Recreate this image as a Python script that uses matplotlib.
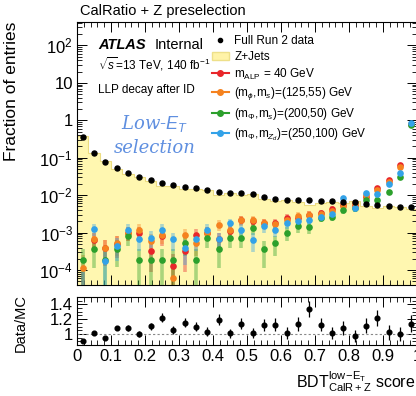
import numpy as np
import matplotlib
matplotlib.use("Agg")
import matplotlib.pyplot as plt
from matplotlib.lines import Line2D
from matplotlib.patches import Patch
from matplotlib.ticker import MultipleLocator, LogLocator, FixedLocator, NullFormatter, FuncFormatter

plt.rcParams['font.family'] = ['Liberation Sans', 'DejaVu Sans']
plt.rcParams['mathtext.fontset'] = 'custom'
plt.rcParams['mathtext.rm'] = 'Liberation Sans'
plt.rcParams['mathtext.it'] = 'Liberation Sans:italic'
plt.rcParams['mathtext.bf'] = 'Liberation Sans:bold'

# 30 bins of the BDT score, 0..1
bin_edges = np.linspace(0, 1, 31)

# fraction of entries
data = [0.35, 0.133, 0.077, 0.053, 0.039, 0.031, 0.026, 0.021, 0.019, 0.0167,
        0.0158, 0.0139, 0.0123, 0.0116, 0.0115, 0.011, 0.0091, 0.0080, 0.0076, 0.0076,
        0.0075, 0.0071, 0.0068, 0.0067, 0.0066, 0.0059, 0.0056, 0.0052, 0.0049, 0.0049]
zjets = [0.385, 0.132, 0.082, 0.049, 0.036, 0.031, 0.0236, 0.0172, 0.0181, 0.0145,
         0.0144, 0.0135, 0.0103, 0.0115, 0.0101, 0.0109, 0.0081, 0.0071, 0.0075, 0.0067,
         0.0056, 0.0063, 0.0067, 0.0062, 0.0068, 0.0053, 0.0046, 0.0051, 0.0049, 0.0043]

# signal samples, log10 of fraction of entries
sig_alp40_log = [-4.6, -3.2, -3.42, -3.3, -3.0, -3.0, -3.5, -3.1, -3.9, -3.5,
                 -3.05, -3.0, -3.18, -2.95, -2.65, -2.68, -2.74, -2.74, -2.6, -2.62,
                 -2.52, -2.47, -2.37, -2.25, -2.25, -2.05, -1.80, -1.59, -1.19, -0.10]
sig_125_55_log = [-3.95, -3.18, -3.40, -3.27, -3.0, -2.92, -3.22, -3.05, -4.2, -3.05,
                  -3.27, -3.0, -2.79, -2.92, -2.67, -2.65, -2.74, -2.78, -2.65, -2.55,
                  -2.52, -2.5, -2.42, -2.3, -2.2, -2.0, -1.85, -1.65, -1.25, -0.10]
sig_200_50_log = [-3.74, -3.45, -3.74, -3.43, -3.1, -3.74, -3.74, -3.74, -3.74, -3.27,
                  -3.74, -3.13, -3.45, -3.13, -3.13, -2.87, -3.45, -3.27, -3.0, -2.83,
                  -2.85, -2.6, -2.57, -2.4, -2.35, -2.12, -2.12, -1.91, -1.51, -0.12]
sig_250_100_log = [-4.6, -2.90, -3.76, -3.35, -2.92, -3.18, -3.13, -2.92, -3.18, -3.4,
                   -3.18, -2.92, -3.18, -2.74, -2.92, -3.2, -2.83, -2.92, -2.74, -2.68,
                   -2.65, -2.57, -2.5, -2.07, -2.35, -1.93, -1.98, -1.70, -1.41, -0.08]

sig_labels = [r"m$_{\rm ALP}$ = 40 GeV",
              r"(m$_{\phi}$,m$_{s}$)=(125,55) GeV",
              r"(m$_{\Phi}$,m$_{s}$)=(200,50) GeV",
              r"(m$_{\Phi}$,m$_{Z_{d}}$)=(250,100) GeV"]
sig_colors = ['#e8262a', '#f5821f', '#2ca02c', '#33a2e8']

n_data_eff = 21000.   # effective stat for data errors
n_sig_eff = 6000.     # effective stat for signal errors

centers = 0.5 * (bin_edges[1:] + bin_edges[:-1])
data = np.array(data)
zjets = np.array(zjets)
ratio = data / zjets
data_err = np.sqrt(data / n_data_eff)
ratio_err = ratio / np.sqrt(data * n_data_eff)

W, H = 416, 396
fig = plt.figure(figsize=(W / 100, H / 100), dpi=100)
ax = fig.add_axes([77 / W, 1 - 285 / H, 340 / W, 263 / H])
rax = fig.add_axes([77 / W, 1 - 345 / H, 340 / W, 48 / H])

# Z+jets background
ax.stairs(zjets, bin_edges, fill=True, baseline=1e-6, color='#fff7b0', zorder=1)
ax.stairs(zjets, bin_edges, fill=False, baseline=None, color='#ecdc80', lw=0.8, zorder=1)

# signals
for logs, col in zip([sig_alp40_log, sig_125_55_log, sig_200_50_log, sig_250_100_log], sig_colors):
    vals = 10 ** np.array(logs)
    err = np.sqrt(vals / n_sig_eff)
    lo = np.minimum(err, vals - 1e-6)
    ax.errorbar(centers, vals, yerr=[lo, err], fmt='none', ecolor=col, elinewidth=2.6,
                alpha=0.4, zorder=3)
    ax.plot(centers, vals, 'o', color=col, ms=4.8, mec='none', zorder=4)

# data
ax.errorbar(centers, data, yerr=data_err, fmt='o', color='black', ms=3.6, elinewidth=0.8, zorder=5)

ax.set_yscale('log')
ax.set_ylim(4e-5, 420)
ax.set_xlim(0, 1)
ax.yaxis.set_major_locator(FixedLocator([1e-4, 1e-3, 1e-2, 1e-1, 1, 10, 100]))
ax.yaxis.set_minor_locator(LogLocator(base=10, subs=np.arange(2, 10), numticks=20))
ax.yaxis.set_minor_formatter(NullFormatter())


def log_fmt(v, pos):
    e = int(round(np.log10(v)))
    if e == 0:
        return "1"
    if e == 1:
        return "10"
    return r"$10^{%d}$" % e


ax.yaxis.set_major_formatter(FuncFormatter(log_fmt))
for a in (ax, rax):
    a.xaxis.set_major_locator(MultipleLocator(0.1))
    a.xaxis.set_minor_locator(MultipleLocator(0.02))
    a.tick_params(which='both', direction='in', top=True, right=True, labelsize=12, pad=3)
    a.tick_params(which='major', length=7, width=0.7)
    a.tick_params(which='minor', length=3.5, width=0.6)
    for s in a.spines.values():
        s.set_linewidth(0.8)
ax.tick_params(labelbottom=False)

ax.set_ylabel("Fraction of entries", fontsize=12.5, loc='top', labelpad=2)

# ratio panel
rax.errorbar(centers, ratio, yerr=ratio_err, fmt='o', color='black', ms=3.4, elinewidth=0.9)
rax.axhline(1, color='#888888', ls=(0, (2, 2)), lw=0.8)
rax.set_xlim(0, 1)
rax.set_ylim(0.85, 1.5)
rax.yaxis.set_major_locator(FixedLocator([1, 1.2, 1.4]))
rax.yaxis.set_minor_locator(MultipleLocator(0.05))
rax.yaxis.set_major_formatter(FuncFormatter(lambda v, p: "1" if abs(v - 1) < 1e-6 else "%.1f" % v))
rax.set_xticks(np.round(np.arange(0, 1.01, 0.1), 1))
rax.set_xticklabels(["0", "0.1", "0.2", "0.3", "0.4", "0.5", "0.6", "0.7", "0.8", "0.9", "1"])
rax.set_ylabel("Data/MC", fontsize=10.5)
rax.yaxis.set_label_coords(-0.145, 0.45)
ax.yaxis.set_label_coords(-0.17, 1.0)

fig.text(415 / W, 1 - 382 / H, r"BDT$^{\rm low\!-\!E_{T}}_{\rm CalR+Z}$ score", fontsize=11.5,
         ha='right', va='center')

# labels
fig.text(80 / W, 1 - 11 / H, "CalRatio + Z preselection", fontsize=10.5, ha='left', va='center')
fig.text(98 / W, 1 - 45 / H, "ATLAS", fontsize=10.5, weight='bold', style='italic', ha='left', va='center')
fig.text(155 / W, 1 - 45 / H, "Internal", fontsize=10.5, ha='left', va='center')
fig.text(98 / W, 1 - 64 / H, r"$\sqrt{s}$=13 TeV, 140 fb$^{-1}$", fontsize=8.5, ha='left', va='center')
fig.text(98 / W, 1 - 90 / H, "LLP decay after ID", fontsize=8.5, ha='left', va='center')
fig.text(155 / W, 1 - 124 / H, r"Low-$E_{T}$", fontsize=13, color='#5f8fe0', ha='center', va='center',
         family='DejaVu Serif', style='italic')
fig.text(155 / W, 1 - 148 / H, "selection", fontsize=13, color='#5f8fe0', ha='center', va='center',
         family='DejaVu Serif', style='italic')

handles = [Line2D([], [], marker='o', color='black', ls='none', ms=3),
           Patch(facecolor='#fff3a8', edgecolor='#eee08a')]
for col in sig_colors:
    handles.append(Line2D([], [], marker='o', color=col, ms=4, lw=1.5))
labels = ["Full Run 2 data", "Z+Jets"] + sig_labels
fig.legend(handles, labels, loc='upper left', bbox_to_anchor=(212 / W, 1 - 35 / H), frameon=False,
           fontsize=8.5, handlelength=1.4, handletextpad=0.5, labelspacing=0.32, borderpad=0,
           borderaxespad=0)

fig.savefig("out.png", dpi=100, facecolor='white')
